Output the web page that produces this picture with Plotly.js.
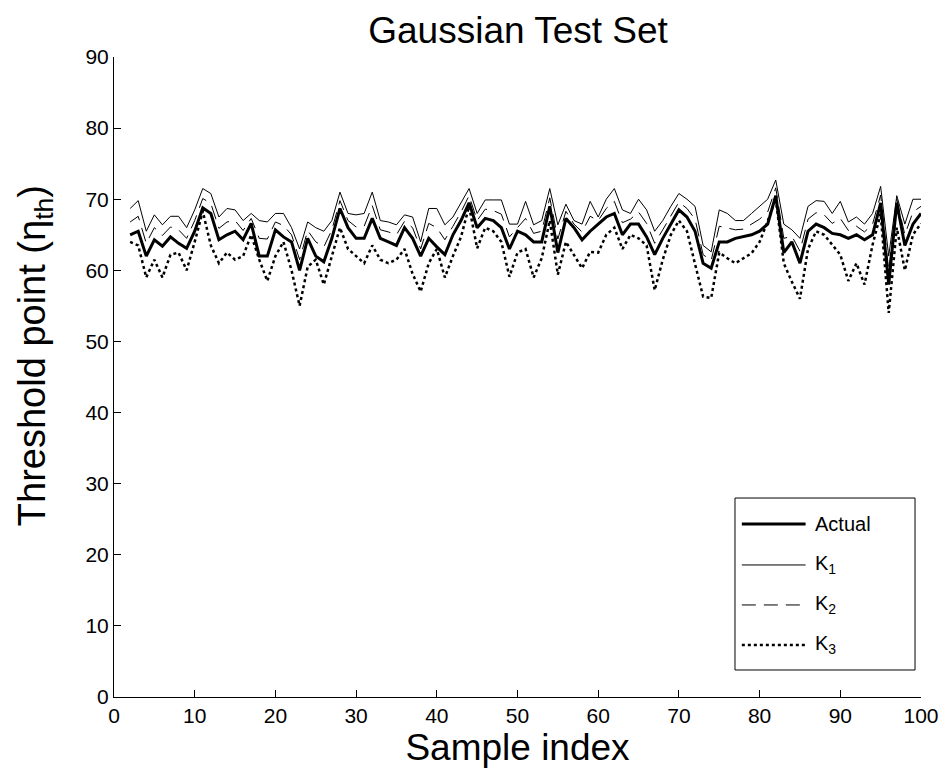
<!DOCTYPE html>
<html>
<head>
<meta charset="utf-8">
<script src="https://cdn.plot.ly/plotly-3.0.1.min.js"></script>
<style>html,body{margin:0;padding:0;background:#fff;}#chart{width:948px;height:779px;}</style>
</head>
<body>
<div id="chart"></div>
<script>
// Sample index 2..100
const sampleIndex = [];
for (let i = 2; i <= 100; i++) sampleIndex.push(i);

const actual = [65.0,65.5,62.0,64.3,63.4,64.7,63.8,63.1,65.5,68.8,68.0,64.3,65.0,65.5,64.3,66.6,62.0,62.0,65.7,64.7,
64.0,60.0,64.5,62.0,61.2,64.5,68.7,66.0,64.5,64.5,67.3,64.5,64.0,63.5,66.0,64.5,62.0,64.5,63.3,62.2,
65.0,67.0,69.5,66.0,67.3,67.0,66.0,63.0,65.5,65.0,64.0,64.0,69.0,62.5,67.3,66.0,64.3,65.5,66.5,67.5,
68.0,65.0,66.5,66.5,64.7,62.2,64.5,66.5,68.5,67.5,65.5,61.0,60.3,64.0,64.0,64.5,64.7,65.0,65.5,66.5,
70.5,62.5,64.0,61.0,65.5,66.5,66.0,65.2,65.0,64.5,65.0,64.3,65.0,69.5,58.0,69.5,63.5,66.5,68.0];

const k1 = [68.7,69.8,65.5,67.8,66.4,67.6,67.6,66.0,68.5,71.5,70.8,67.5,68.7,68.5,67.0,68.0,67.0,66.8,68.0,68.0,
66.0,63.0,66.8,66.0,65.5,67.0,71.0,68.0,67.8,68.0,71.0,67.0,66.8,66.4,67.8,67.5,64.0,68.7,68.7,66.4,
67.5,69.5,71.5,68.0,69.9,69.9,69.9,66.5,66.5,69.7,66.4,67.0,71.5,66.4,69.3,67.0,66.5,69.7,67.5,70.0,
71.5,68.5,68.0,70.0,68.5,65.5,67.0,69.0,70.8,70.0,69.0,63.5,62.6,68.5,68.0,67.0,67.0,68.0,69.0,70.0,
72.7,66.5,65.7,64.5,69.0,69.8,69.7,68.0,69.7,66.8,67.5,66.5,68.0,71.8,62.0,70.5,66.5,70.0,70.0];

const k2 = [66.8,67.6,63.8,66.0,64.9,66.1,65.7,64.5,67.0,70.1,69.4,65.9,66.8,67.0,65.6,67.3,64.5,64.4,66.8,66.3,
65.0,61.5,65.6,64.0,63.3,65.7,69.8,67.0,66.1,66.2,69.1,65.7,65.4,65.0,66.9,66.0,63.0,66.6,66.0,64.3,
66.2,68.2,70.5,67.0,68.6,68.4,67.9,64.7,66.0,67.3,65.2,65.5,70.2,64.4,68.3,66.5,65.4,67.6,67.0,68.7,
69.7,66.7,67.2,68.2,66.6,63.8,65.7,67.7,69.6,68.7,67.2,62.2,61.4,66.2,66.0,65.7,65.8,66.5,67.2,68.2,
71.6,64.5,64.8,62.7,67.2,68.1,67.8,66.6,67.3,65.6,66.2,65.4,66.5,70.6,60.0,70.0,65.0,68.2,69.0];

const k3 = [64.0,63.5,59.0,61.5,59.0,62.2,62.5,60.0,64.0,68.3,63.5,61.0,62.5,61.5,62.0,65.0,61.5,58.5,62.0,64.0,
60.0,55.0,60.5,61.5,58.0,62.0,66.0,63.0,62.0,61.0,63.5,61.5,61.0,61.5,63.0,59.5,57.0,61.0,63.0,59.0,
62.0,64.7,69.0,63.1,66.0,65.5,64.0,59.1,62.5,63.0,59.0,61.7,67.0,59.4,64.0,62.2,60.3,62.6,62.5,65.0,
66.0,63.0,65.0,64.5,63.5,57.2,61.5,65.0,67.0,65.5,61.0,56.3,56.1,62.5,61.7,61.0,61.7,62.4,64.0,66.9,
70.1,61.0,58.4,56.0,63.0,65.5,65.0,63.6,62.2,58.5,61.0,58.0,63.6,68.0,54.0,66.0,60.0,65.0,66.6];

const seriesNames = ['Actual', 'K<sub>1</sub>', 'K<sub>2</sub>', 'K<sub>3</sub>'];
const xTicks = [0,10,20,30,40,50,60,70,80,90,100];
const yTicks = [0,10,20,30,40,50,60,70,80,90];
const chartTitle = 'Gaussian Test Set';
const xTitle = 'Sample index';
const yTitle = 'Threshold point (η<sub>th</sub>)';

const FONT = 'Liberation Sans, Arial, Helvetica, sans-serif';

const styles = [
  {color: '#000', width: 3},
  {color: '#000', width: 1},
  {color: '#000', width: 1, dash: '14px,8px'},
  {color: '#000', width: 2.5, dash: 'dot'}
];
const seriesData = [actual, k1, k2, k3];

const traces = seriesData.map((ys, i) => ({
  x: sampleIndex, y: ys, name: seriesNames[i], mode: 'lines', line: styles[i], showlegend: false
}));

// Custom legend box (MATLAB style) in paper coordinates
const legBox = {x0: 0.7695, x1: 0.9926, y0: 0.0422, y1: 0.3109};
const rowY = [0.2703, 0.2063, 0.1438, 0.0813];
const shapes = [{type: 'rect', xref: 'paper', yref: 'paper', x0: legBox.x0, x1: legBox.x1, y0: legBox.y0, y1: legBox.y1,
  line: {color: '#000', width: 1}, fillcolor: '#fff', layer: 'above'}];
const annotations = [];
seriesNames.forEach((nm, i) => {
  shapes.push({type: 'line', xref: 'paper', yref: 'paper', x0: 0.778, x1: 0.857, y0: rowY[i], y1: rowY[i],
    line: styles[i], layer: 'above'});
  annotations.push({xref: 'paper', yref: 'paper', x: 0.866, y: rowY[i], xanchor: 'left', yanchor: 'middle',
    text: nm, showarrow: false, font: {family: FONT, size: 20, color: '#000'}});
});
// Y axis title placed as rotated annotation (MATLAB places it further left)
annotations.push({xref: 'paper', yref: 'paper', x: -0.098, y: 0.534, xanchor: 'center', yanchor: 'middle',
  textangle: -90, text: yTitle, showarrow: false, font: {family: FONT, size: 38, color: '#000'}});

const layout = {
  width: 948, height: 779,
  margin: {l: 114, r: 27, t: 57, b: 82},
  paper_bgcolor: '#fff', plot_bgcolor: '#fff',
  font: {family: FONT, color: '#000', size: 21},
  title: {text: chartTitle, font: {family: FONT, size: 37, color: '#000'}, x: 0.5465, xanchor: 'center', y: 0.962, yanchor: 'middle'},
  xaxis: {
    range: [0, 100], tickvals: xTicks, ticktext: xTicks.map(String),
    ticks: 'inside', ticklen: 7, tickcolor: '#000', tickwidth: 1,
    showline: true, linecolor: '#000', linewidth: 1, mirror: false,
    showgrid: false, zeroline: false,
    tickfont: {family: FONT, size: 21, color: '#000'},
    title: {text: xTitle, font: {family: FONT, size: 37, color: '#000'}, standoff: 4}
  },
  yaxis: {
    range: [0, 90], tickvals: yTicks, ticktext: yTicks.map(String),
    ticks: 'inside', ticklen: 7, tickcolor: '#000', tickwidth: 1,
    showline: true, linecolor: '#000', linewidth: 1, mirror: false,
    showgrid: false, zeroline: false,
    tickfont: {family: FONT, size: 21, color: '#000'}
  },
  showlegend: false,
  shapes: shapes,
  annotations: annotations
};

Plotly.newPlot('chart', traces, layout, {displayModeBar: false, staticPlot: true});
</script>
</body>
</html>
